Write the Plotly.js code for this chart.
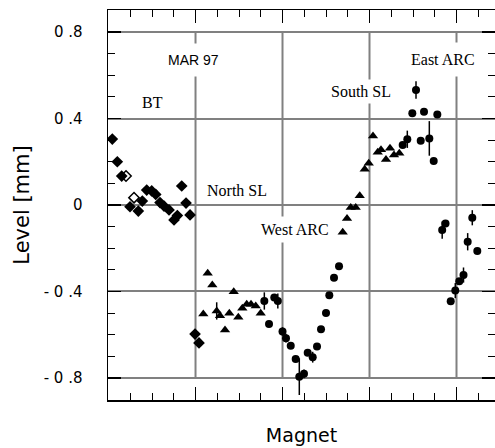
<!DOCTYPE html>
<html>
<head>
<meta charset="utf-8">
<script src="https://cdn.plot.ly/plotly-3.0.1.min.js"></script>
<style>html,body{margin:0;padding:0;background:#fff;overflow:hidden}</style>
</head>
<body>
<div id="chart" style="width:495px;height:448px"></div>
<script>
// BT diamonds (filled and open)
var btX = [0.87, 2.02, 3.03, 4.94, 6.85, 7.77, 8.78, 9.93, 10.85, 11.84, 12.76, 13.91, 15.06, 15.82, 16.83, 17.82, 18.74, 19.89, 20.80];
var btY = [0.305, 0.200, 0.134, -0.008, -0.028, 0.018, 0.069, 0.065, 0.049, 0.011, -0.005, -0.023, -0.069, -0.049, 0.088, 0.009, -0.046, -0.597, -0.638];
var btOpenX = [4.02, 5.86];
var btOpenY = [0.134, 0.034];

// North SL triangles
var nslX = [21.79, 22.80, 23.86, 24.87, 25.63, 26.78, 27.77, 28.78, 29.84, 30.76, 31.77, 32.76, 33.84, 34.99];
var nslY = [-0.504, -0.316, -0.370, -0.490, -0.512, -0.578, -0.501, -0.401, -0.519, -0.478, -0.459, -0.459, -0.467, -0.501];
var nslErr = [0, 0, 0, 0.04, 0, 0, 0, 0, 0, 0, 0, 0, 0, 0];

// West ARC circles
var warcX = [35.82, 36.90, 38.11, 38.92, 40.00, 40.80, 41.89, 43.03, 43.86, 44.94, 45.79, 46.94, 47.93, 48.85, 50.00, 50.76, 51.84, 52.99];
var warcY = [-0.444, -0.550, -0.428, -0.444, -0.585, -0.616, -0.651, -0.712, -0.794, -0.781, -0.683, -0.704, -0.655, -0.575, -0.499, -0.418, -0.336, -0.283];
var warcErr = [0.04, 0, 0, 0.035, 0.02, 0.02, 0, 0, 0.085, 0.02, 0, 0.025, 0, 0, 0, 0, 0, 0];

// South SL triangles
var sslX = [53.84, 54.83, 55.68, 56.83, 57.75, 58.90, 59.82, 60.80, 61.89, 62.64, 63.79, 64.71, 65.63, 66.85];
var sslY = [-0.126, -0.062, -0.011, -0.011, 0.043, 0.165, 0.193, 0.319, 0.244, 0.255, 0.211, 0.262, 0.231, 0.239];

// East ARC circles
var earcX = [67.63, 68.69, 69.84, 70.69, 71.77, 72.53, 73.75, 74.76, 75.59, 76.71, 77.47, 78.67, 79.72, 80.64, 81.61, 82.57, 83.63, 84.78];
var earcY = [0.277, 0.304, 0.424, 0.532, 0.297, 0.431, 0.308, 0.203, 0.419, -0.116, -0.085, -0.445, -0.396, -0.353, -0.324, -0.170, -0.059, -0.213];
var earcErr = [0, 0.04, 0, 0.04, 0, 0, 0.08, 0, 0, 0.04, 0, 0, 0.035, 0, 0.035, 0.04, 0.035, 0];

// Axis ticks
var yTickVals = [-0.8, -0.4, 0, 0.4, 0.8];
var yTickText = ["- 0 .8", "- 0 .4", "0", "0 .4", "0 .8"];
var xGridVals = [20, 40, 60, 80];

// Region labels
var labelText = ["MAR 97", "BT", "North SL", "West ARC", "South SL", "East ARC"];
var labelX = [19.54, 10.16, 29.47, 42.76, 57.93, 76.90];
var labelY = [0.670, 0.472, 0.069, -0.111, 0.523, 0.675];

var errStyle = function(arr){ return {type:'data', array:arr, symmetric:true, visible:true, color:'#000', thickness:1.5, width:0}; };

var traces = [
  {x: btX, y: btY, mode:'markers', type:'scatter', name:'BT',
   marker:{symbol:'diamond', size:9, color:'#000'}},
  {x: btOpenX, y: btOpenY, mode:'markers', type:'scatter', name:'BT open',
   marker:{symbol:'diamond-open', size:8, color:'#000', line:{width:1.5, color:'#000'}}},
  {x: nslX, y: nslY, mode:'markers', type:'scatter', name:'North SL',
   error_y: errStyle(nslErr),
   marker:{symbol:'triangle-up', size:9, color:'#000'}},
  {x: warcX, y: warcY, mode:'markers', type:'scatter', name:'West ARC',
   error_y: errStyle(warcErr),
   marker:{symbol:'circle', size:8, color:'#000'}},
  {x: sslX, y: sslY, mode:'markers', type:'scatter', name:'South SL',
   marker:{symbol:'triangle-up', size:9, color:'#000'}},
  {x: earcX, y: earcY, mode:'markers', type:'scatter', name:'East ARC',
   error_y: errStyle(earcErr),
   marker:{symbol:'circle', size:8, color:'#000'}}
];

var pads = [8, 2, 2, 4, 3, 8];
var annotations = labelText.map(function(t, i){
  var sans = (t === "MAR 97");
  return {x: labelX[i], y: labelY[i], xref:'x', yref:'y', text: t, showarrow:false,
    bgcolor:'#fff', borderpad: pads[i],
    font: sans ? {family:'Liberation Sans, Arial, sans-serif', size:14, color:'#000'}
               : {family:'Liberation Serif, Times New Roman, serif', size:16, color:'#000'}};
});

var shapes = xGridVals.map(function(v){
  return {type:'line', xref:'x', yref:'y', x0:v, x1:v, y0:yTickVals[0], y1:yTickVals[yTickVals.length-1],
          line:{color:'#808080', width:2}, layer:'between'};
});

var layout = {
  width:495, height:448,
  margin:{l:108, r:0, t:10, b:48, pad:0},
  paper_bgcolor:'#fff', plot_bgcolor:'#fff',
  showlegend:false,
  font:{family:'DejaVu Sans, sans-serif', color:'#000'},
  xaxis:{
    range:[-0.12, 88.85], showgrid:false, zeroline:false,
    tickmode:'linear', tick0:0, dtick:20, showticklabels:false,
    ticks:'inside', ticklen:13, tickwidth:1.5, tickcolor:'#000',
    minor:{tickmode:'linear', tick0:0, dtick:5, ticks:'inside', ticklen:7, tickwidth:1, tickcolor:'#000', showgrid:false},
    showline:true, linecolor:'#000', linewidth:1.5, mirror:'ticks',
    title:{text:'Magnet', font:{family:'DejaVu Sans, sans-serif', size:19, color:'#000'}, standoff:28},
    automargin:false
  },
  yaxis:{
    range:[-0.902, 0.902], showgrid:true, gridcolor:'#808080', gridwidth:2, zeroline:false,
    tickmode:'array', tickvals:yTickVals, ticktext:yTickText,
    ticks:'inside', ticklen:13, tickwidth:1.5, tickcolor:'#000',
    ticklabelstandoff:21,
    tickfont:{family:'DejaVu Sans, sans-serif', size:15, color:'#000'},
    minor:{tickmode:'linear', tick0:0, dtick:0.1, ticks:'inside', ticklen:7, tickwidth:1, tickcolor:'#000', showgrid:false},
    showline:true, linecolor:'#000', linewidth:1.5, mirror:'ticks',
    title:{text:'Level [mm]', font:{family:'DejaVu Sans, sans-serif', size:21, color:'#000'}, standoff:8},
    automargin:false
  },
  annotations: annotations,
  shapes: shapes
};

Plotly.newPlot('chart', traces, layout, {displayModeBar:false, staticPlot:true});
</script>
</body>
</html>
